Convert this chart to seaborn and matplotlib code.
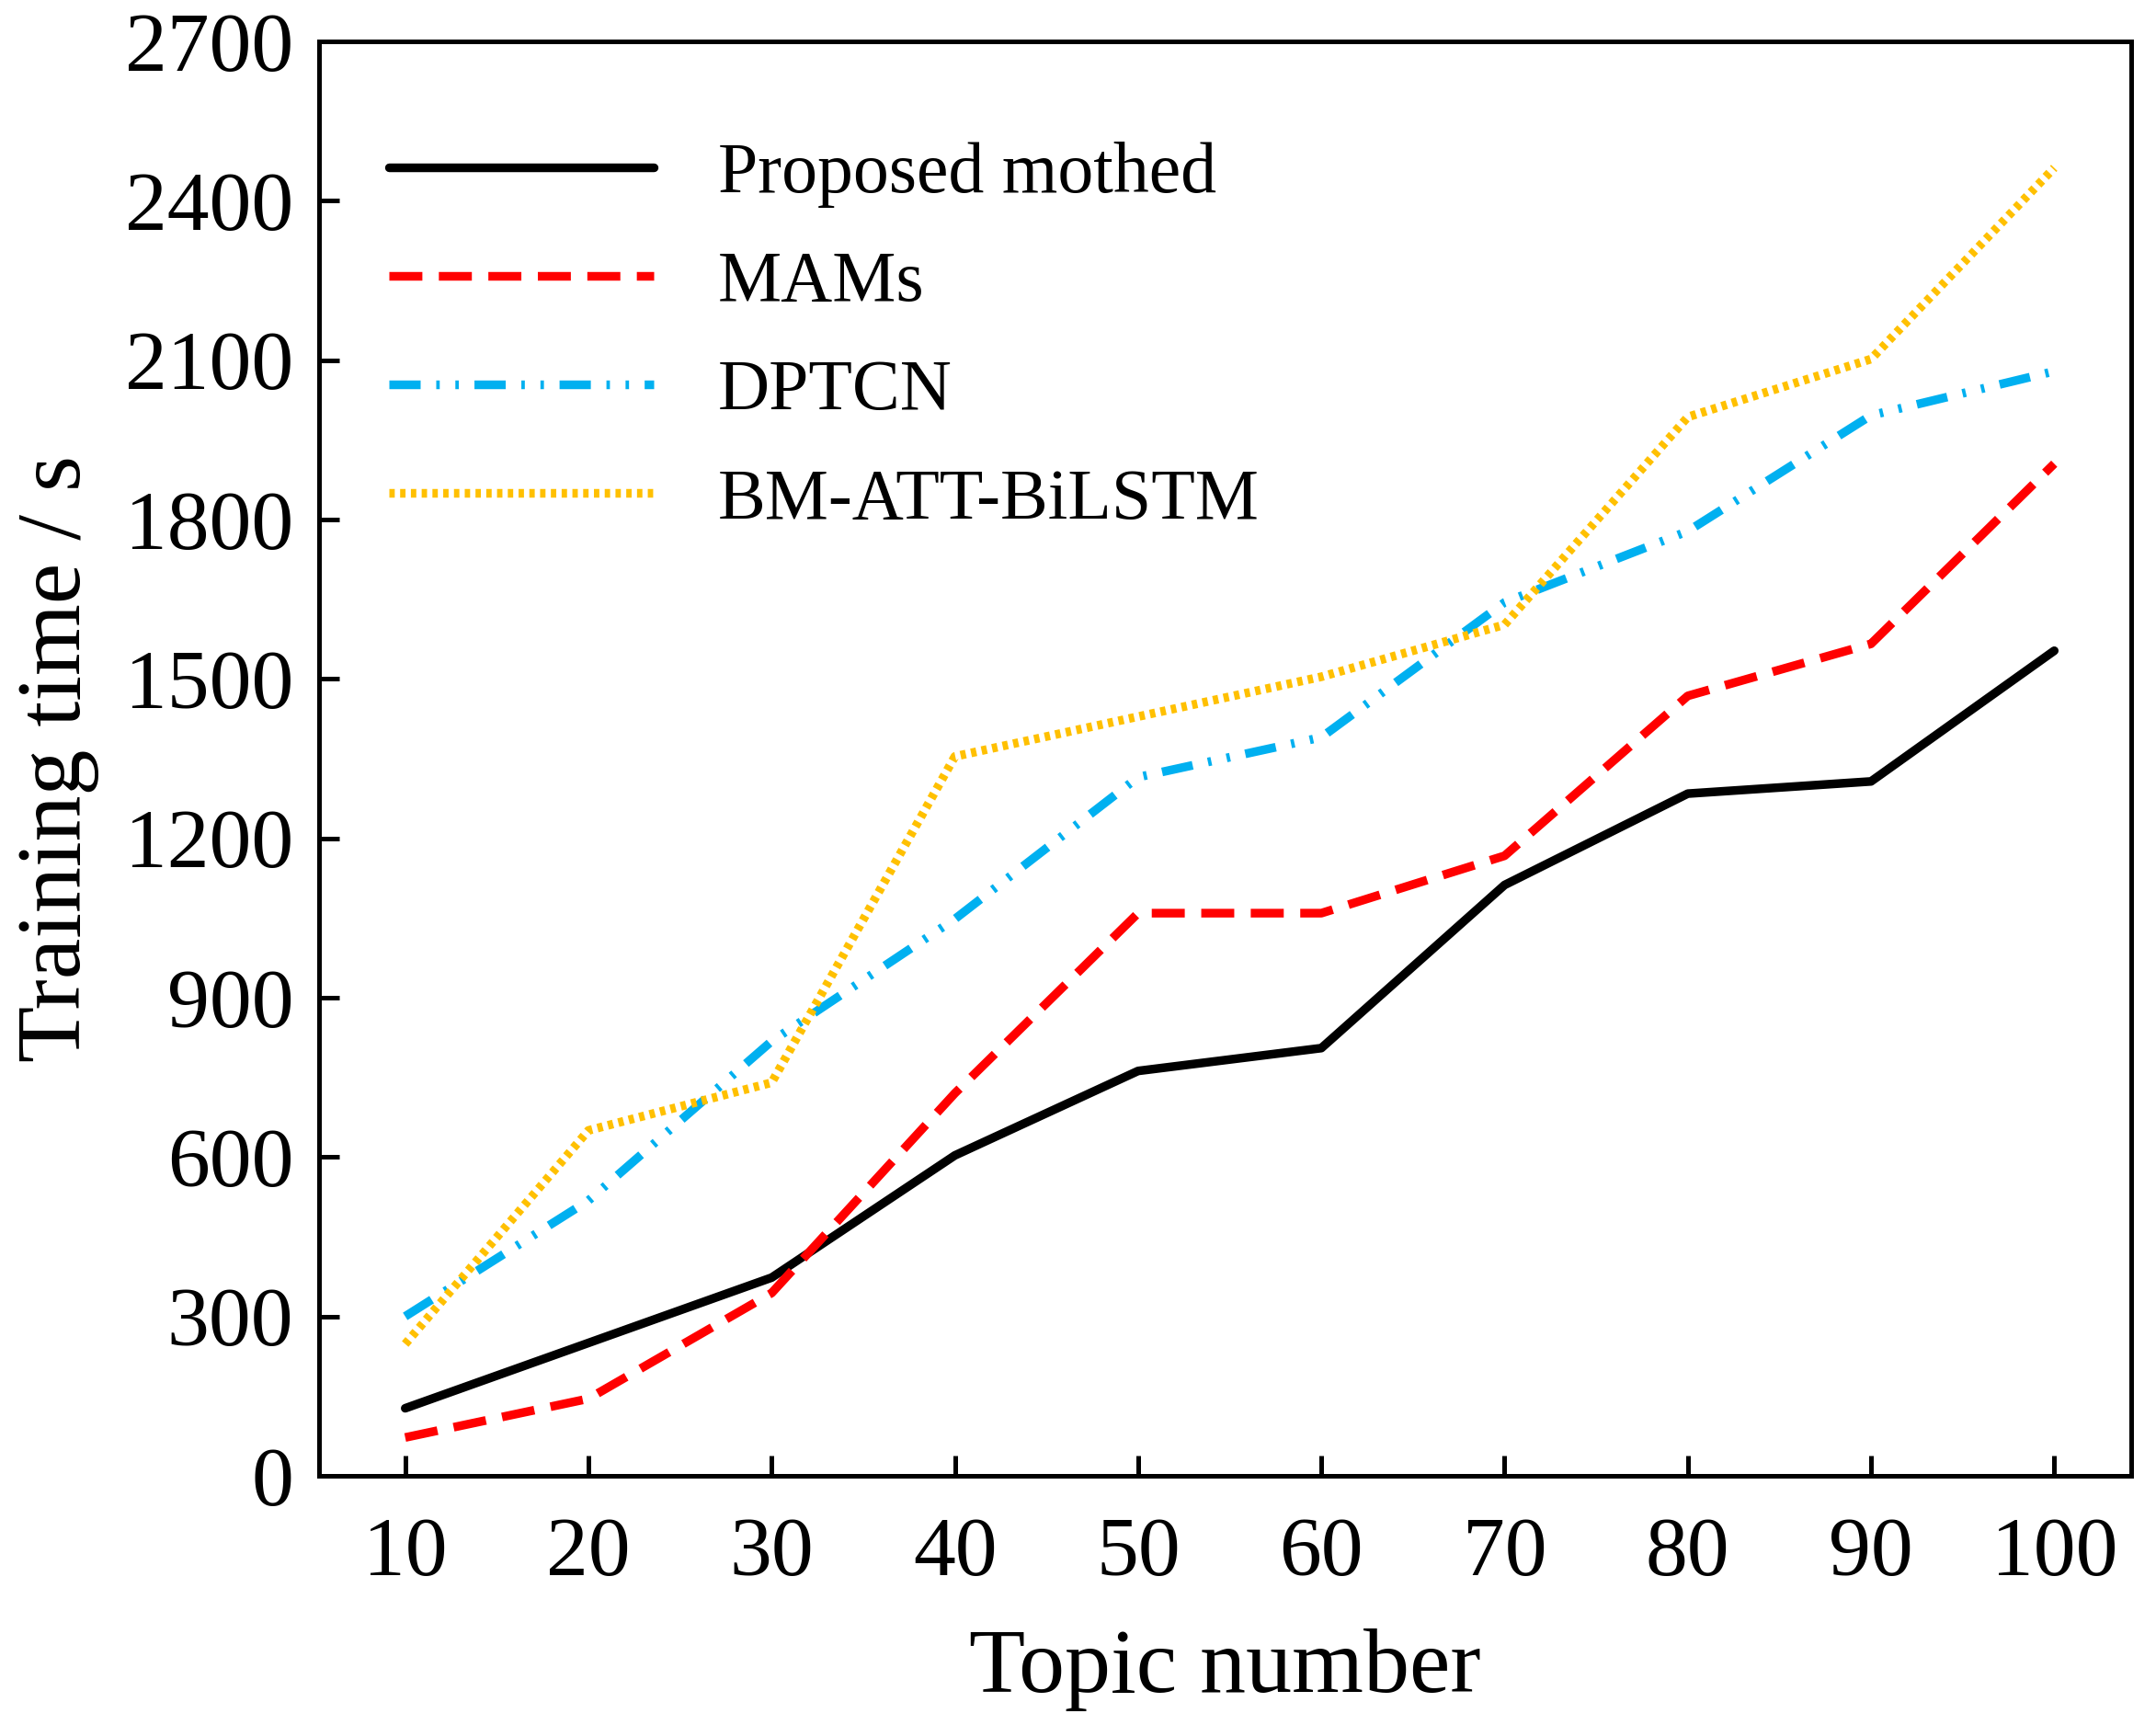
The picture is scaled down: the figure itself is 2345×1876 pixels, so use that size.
import numpy as np
import pandas as pd
import matplotlib
matplotlib.use("Agg")
import matplotlib.pyplot as plt
import seaborn as sns

# data
topics = [10, 20, 30, 40, 50, 60, 70, 80, 90, 100]
proposed = [127, 250, 373, 603, 762, 805, 1112, 1284, 1307, 1553]
mams = [72, 145, 344, 720, 1059, 1059, 1167, 1468, 1566, 1905]
dptcn = [300, 518, 818, 1048, 1315, 1390, 1644, 1778, 1996, 2079]
bm_att = [248, 650, 740, 1354, 1429, 1504, 1602, 1993, 2102, 2462]

series_names = ["Proposed mothed", "MAMs", "DPTCN", "BM-ATT-BiLSTM"]
series_values = [proposed, mams, dptcn, bm_att]
colors = ["#000000", "#FF0000", "#00B0F0", "#FFC000"]
styles = ["-", (0, (3.8, 1.9)), (0, (3.6, 1.8, 0.4, 1.8, 0.4, 1.8)), (0, (0.62, 0.62))]
yticks = [0, 300, 600, 900, 1200, 1500, 1800, 2100, 2400, 2700]

sns.set_style("ticks")
plt.rcParams['font.family'] = ['Liberation Serif', 'DejaVu Serif']
plt.rcParams['text.color'] = 'black'
plt.rcParams['axes.labelcolor'] = 'black'
plt.rcParams['xtick.color'] = 'black'
plt.rcParams['ytick.color'] = 'black'

fig = plt.figure(figsize=(11.725, 9.38), dpi=200)
ax = fig.add_axes([0.148, 0.1445, 0.8405, 0.8315])

for name, vals, col, ls in zip(series_names, series_values, colors, styles):
    df = pd.DataFrame({"topic": topics, "time": vals})
    sns.lineplot(data=df, x="topic", y="time", ax=ax, color=col, linestyle=ls,
                 linewidth=3.4, label=name)

ax.set_xlim(5.3, 104.2)
ax.set_ylim(0, 2700)
ax.set_xticks(topics)
ax.set_yticks(yticks)
ax.tick_params(axis="x", direction="in", length=8, width=1.8, labelsize=33, pad=16)
ax.tick_params(axis="y", direction="in", length=8, width=1.8, labelsize=33, pad=10)
for sp in ax.spines.values():
    sp.set_linewidth(1.8)
    sp.set_color("black")

ax.set_xlabel("Topic number", fontsize=36, labelpad=14)
ax.set_ylabel("Training time / s", fontsize=36, labelpad=10)

leg = ax.legend(loc="upper left", frameon=False, fontsize=28, handlelength=3.7,
                handletextpad=0.9, labelspacing=0.6, borderaxespad=0.4,
                bbox_to_anchor=(0.007, 0.97))

fig.savefig("out.png", dpi=200)
